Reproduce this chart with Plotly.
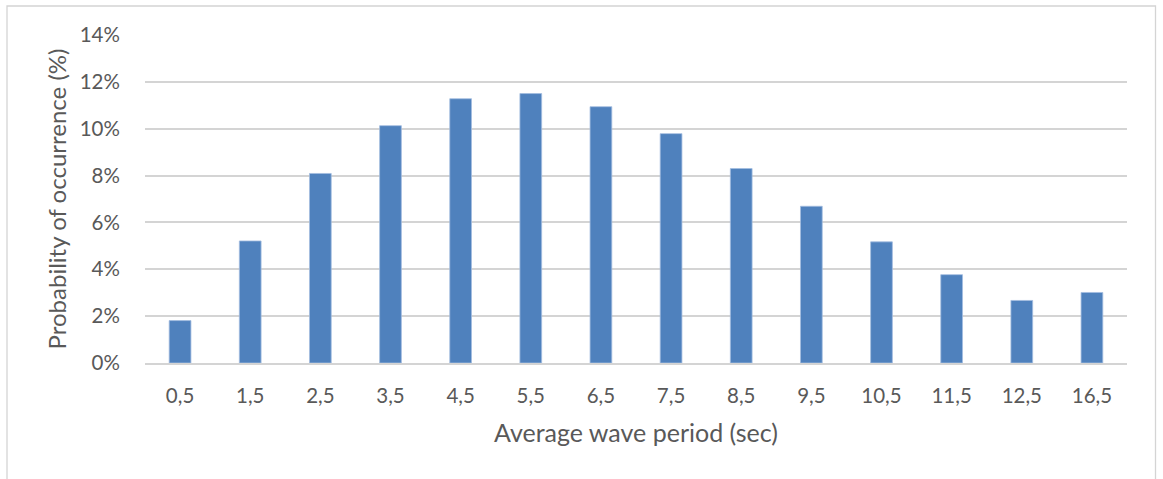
import plotly.graph_objects as go

# Average wave period bins (sec) and probability of occurrence (%)
periods = ["0,5", "1,5", "2,5", "3,5", "4,5", "5,5", "6,5",
           "7,5", "8,5", "9,5", "10,5", "11,5", "12,5", "16,5"]
probability = [1.81, 5.21, 8.09, 10.13, 11.28, 11.50, 10.94,
               9.79, 8.30, 6.69, 5.17, 3.77, 2.67, 3.01]
y_ticks = [0, 2, 4, 6, 8, 10, 12, 14]
y_tick_labels = [f"{v}%" for v in y_ticks]

W, H = 1163, 479
M_L, M_R, M_T, M_B = 145, 36, 35, 116

FONT = "Lato, Calibri, Carlito, sans-serif"
TXT = "#595959"
GRID = "#d4d4d4"

fig = go.Figure(
    go.Bar(
        x=periods,
        y=probability,
        marker=dict(color="#4f81bd", line=dict(color="#a3bde0", width=0.8)),
        hoverinfo="x+y",
    )
)

# frame around the chart area
pw = W - M_L - M_R
ph = H - M_T - M_B
fig.add_shape(
    type="rect", xref="paper", yref="paper",
    x0=(7 - M_L) / pw, x1=(1155.5 - M_L) / pw,
    y0=(H - M_B - 495) / ph, y1=(H - M_B - 6) / ph,
    line=dict(color=GRID, width=1.3), fillcolor="rgba(0,0,0,0)", layer="below",
)

fig.update_layout(
    width=W, height=H,
    margin=dict(l=M_L, r=M_R, t=M_T, b=M_B, pad=0),
    paper_bgcolor="white", plot_bgcolor="white",
    bargap=0.69,
    showlegend=False,
    font=dict(family=FONT, color=TXT, size=20),
    xaxis=dict(
        type="category",
        showgrid=False,
        showline=True, linecolor=GRID, linewidth=1.5,
        ticks="outside", ticklen=14, tickcolor="rgba(0,0,0,0)",
        tickfont=dict(size=20.5, color=TXT),
        title=dict(text="Average wave period (sec)",
                   font=dict(size=25, color=TXT), standoff=18),
        fixedrange=True,
    ),
    yaxis=dict(
        range=[0, 14],
        tickvals=y_ticks, ticktext=y_tick_labels,
        showgrid=True, gridcolor=GRID, gridwidth=1.5,
        zeroline=False, showline=False,
        ticks="outside", ticklen=20, tickcolor="rgba(0,0,0,0)",
        tickfont=dict(size=20.5, color=TXT),
        title=dict(text="Probability of occurrence (%)",
                   font=dict(size=24, color=TXT), standoff=6),
        fixedrange=True,
    ),
)

fig.write_html("out.html")
